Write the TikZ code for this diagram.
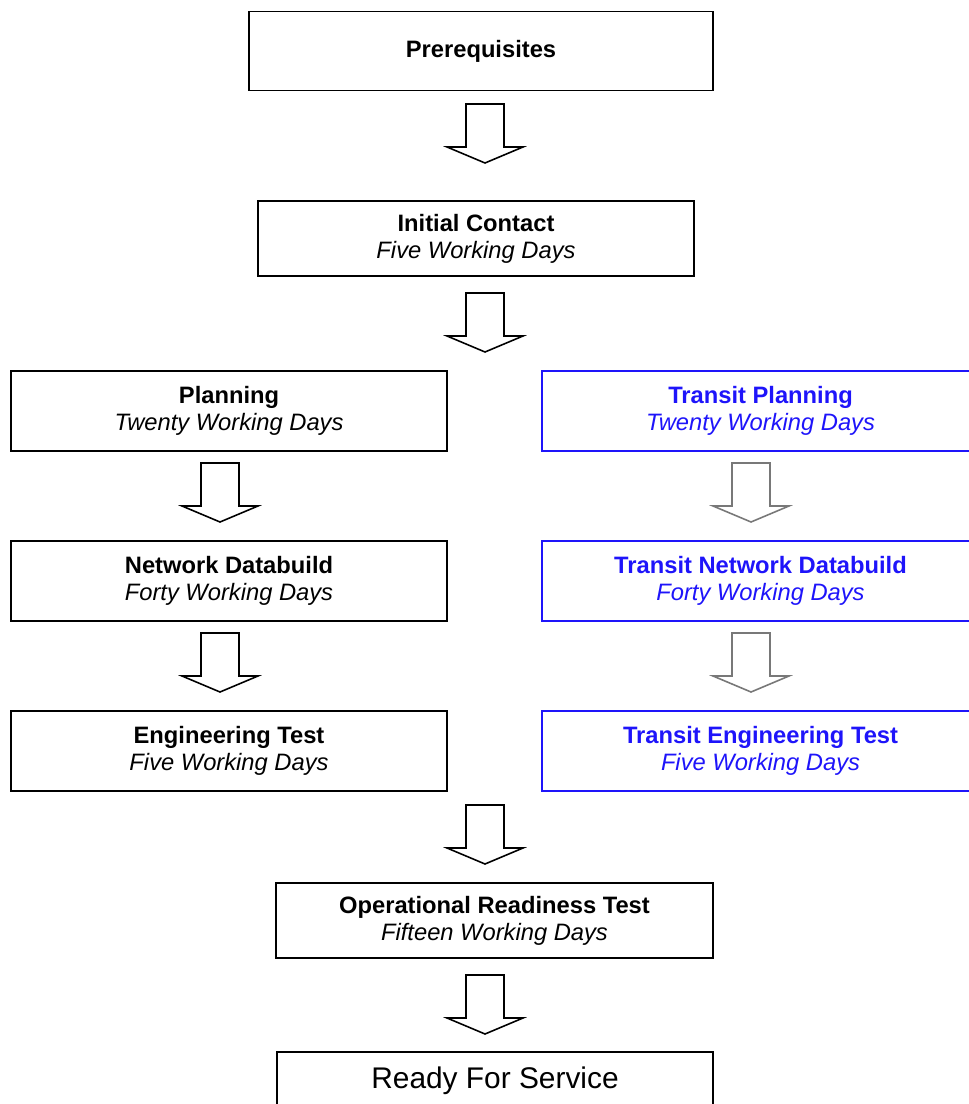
\documentclass[tikz,border=0pt]{standalone}
\usepackage{fontspec}
\setmainfont{Liberation Sans}
\usetikzlibrary{calc}
\definecolor{transitblue}{RGB}{30,20,250}
\definecolor{arrowgrey}{RGB}{120,120,120}

\tikzset{
  stage/.style={draw,line width=0.9pt,minimum width=8.72cm,minimum height=1.6cm,
    align=center,inner sep=0pt,font=\fontsize{13.5}{15.4}\selectfont},
  transit/.style={stage,draw=transitblue,text=transitblue},
  pics/blockarrow/.style={code={
    \draw[line width=0.9pt,fill=white,draw=#1] (-19,0) -- (19,0) -- (19,43) -- (38,43)
      -- (0,59) -- (-38,43) -- (-19,43) -- cycle;}},
  pics/blockarrow/.default=black
}

\begin{document}
\begin{tikzpicture}[x=0.02cm,y=-0.02cm]
          %pixel grid of the page, y down
          \useasboundingbox (0,0) rectangle (968,1104);
          % main line
          \node[stage,minimum width=9.28cm,minimum height=1.58cm] (pre) at (481,51) {\bfseries Prerequisites};
          \node[stage,minimum height=1.5cm] (ic) at (476,238.5) {\bfseries Initial Contact\\\itshape Five Working Days};
          % left branch
          \node[stage] (plan) at (229,411) {\bfseries Planning\\\itshape Twenty Working Days};
          \node[stage] (ndb) at (229,581) {\bfseries Network Databuild\\\itshape Forty Working Days};
          \node[stage] (eng) at (229,751) {\bfseries Engineering Test\\\itshape Five Working Days};
          % right branch (transit)
          \node[transit,minimum width=8.74cm] (tplan) at (760.5,411) {\bfseries Transit Planning\\\itshape Twenty Working Days};
          \node[transit,minimum width=8.74cm] (tndb) at (760.5,581) {\bfseries Transit Network Databuild\\\itshape Forty Working Days};
          \node[transit,minimum width=8.74cm] (teng) at (760.5,751) {\bfseries Transit Engineering Test\\\itshape Five Working Days};
          % end
          \node[stage,minimum width=8.74cm,minimum height=1.5cm] (ort) at (494.5,920.5) {\bfseries Operational Readiness Test\\\itshape Fifteen Working Days};
          \node[stage,minimum height=1.16cm,font=\fontsize{17}{19}\selectfont] (rfs) at (495,1081) {Ready For Service};
          % block arrows
          \pic at (485,104) {blockarrow};
          \pic at (485,293) {blockarrow};
          \pic at (220,463) {blockarrow};
          \pic at (220,633) {blockarrow};
          \pic at (751,463) {blockarrow=arrowgrey};
          \pic at (751,633) {blockarrow=arrowgrey};
          \pic at (485,805) {blockarrow};
          \pic at (485,975) {blockarrow};
          % \draw[help lines,step=50] (0,0) grid (968,1104);
\end{tikzpicture}
\end{document}
